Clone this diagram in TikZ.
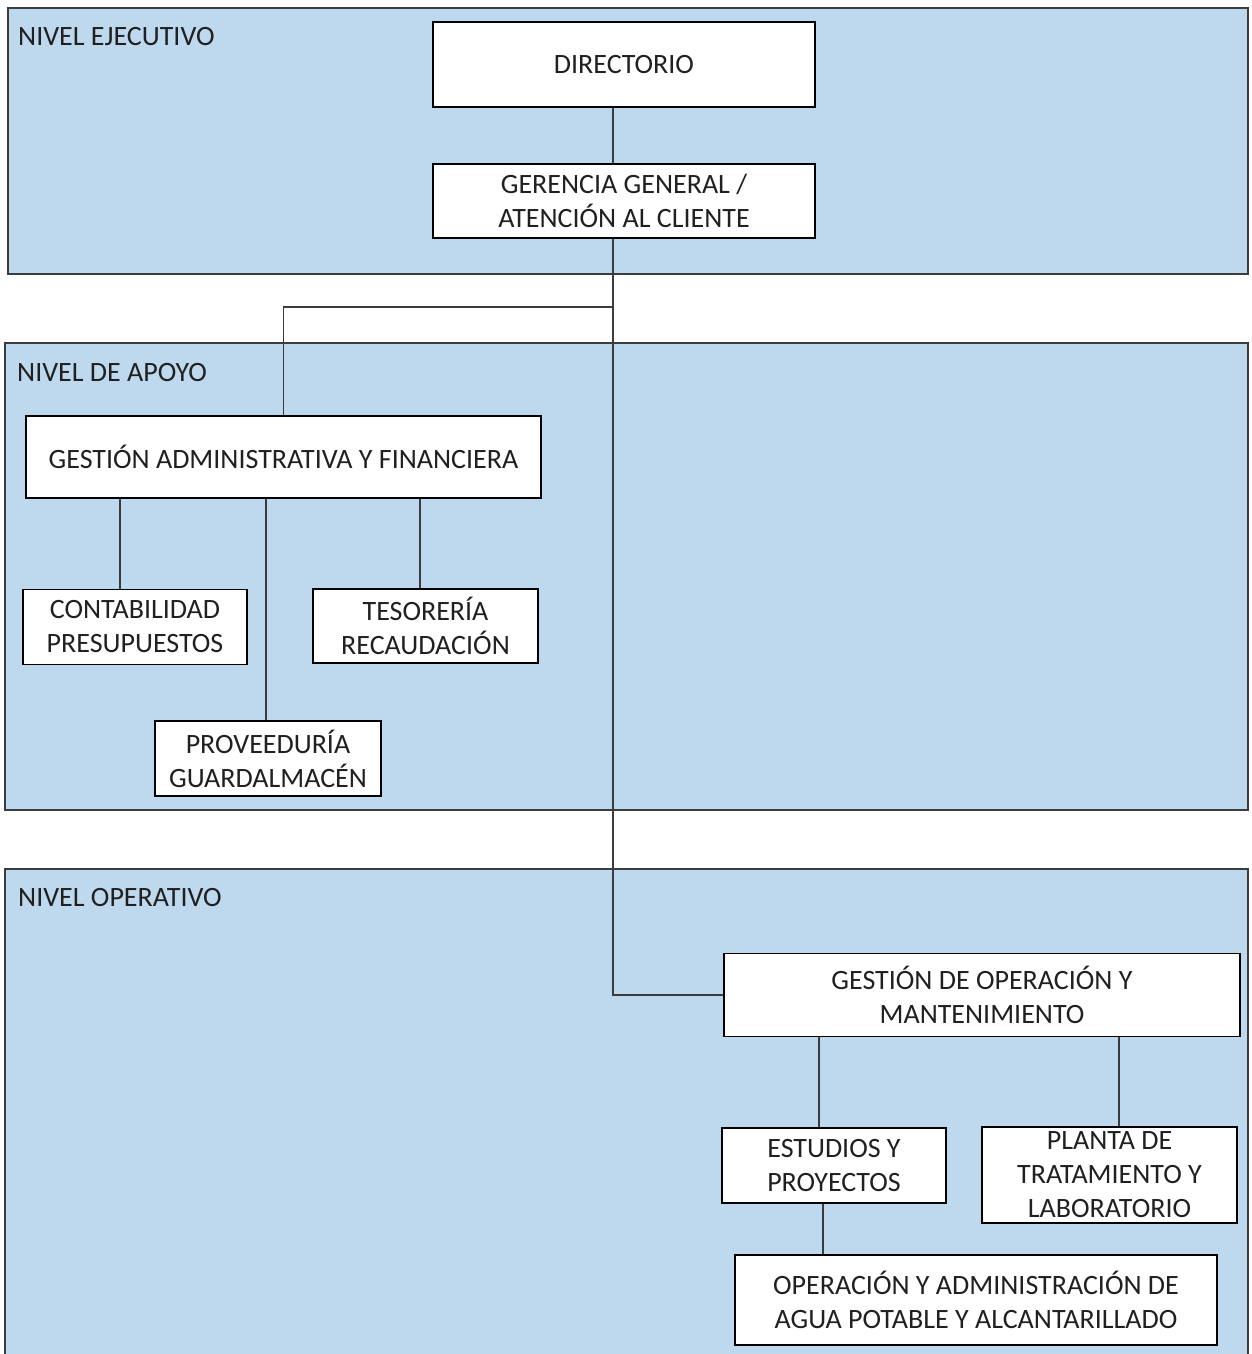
\documentclass[tikz,border=0pt]{standalone}
\usepackage{fontspec}
\setmainfont{Carlito}
\usetikzlibrary{calc}
\definecolor{bandblue}{RGB}{190,216,238}
\definecolor{inkgray}{RGB}{32,32,32}
\definecolor{linegray}{RGB}{60,60,60}
\begin{document}
\begin{tikzpicture}[x=1pt,y=-1pt,
  font=\fontsize{28}{34}\selectfont, text=inkgray,
  band/.style={draw=linegray, line width=1.8pt, fill=bandblue},
  unit/.style={draw=black, line width=1.8pt, fill=white, align=center,
    inner sep=0pt, minimum width=#1},
  level/.style={anchor=base west, inner sep=0pt},
  conn/.style={draw=linegray, line width=1.1pt}]
\useasboundingbox (0,0) rectangle (1251,1354);
\clip (0,0) rectangle (1251,1354);
\fill[white] (0,0) rectangle (1251,1354);

% organisational levels
\draw[band] (8,8) rectangle (1248,274);
\draw[band] (5,343) rectangle (1248,810);
\draw[band] (5,869) rectangle (1248,1380);
\node[level] (lvex) at (18,46) {NIVEL EJECUTIVO};
\node[level] (lvap) at (17,381) {NIVEL DE APOYO};
\node[level] (lvop) at (18,906) {NIVEL OPERATIVO};

% units
\node[unit=382, minimum height=85] (dir) at (624,64.5) {DIRECTORIO};
\node[unit=382, minimum height=74] (ger) at (624,201) {GERENCIA GENERAL /\\ATENCIÓN AL CLIENTE};
\node[unit=515, minimum height=82] (gaf) at (283.5,457) {GESTIÓN ADMINISTRATIVA Y FINANCIERA};
\node[unit=224, minimum height=75] (con) at (135,627) {CONTABILIDAD\\PRESUPUESTOS};
\node[unit=225, minimum height=74] (tes) at (425.5,626) {TESORERÍA\\RECAUDACIÓN};
\node[unit=226, minimum height=75] (pro) at (268,758.5) {PROVEEDURÍA\\GUARDALMACÉN};
\node[unit=516, minimum height=83] (gop) at (982,995) {GESTIÓN DE OPERACIÓN Y\\MANTENIMIENTO};
\node[unit=224, minimum height=75] (est) at (834,1165.5) {ESTUDIOS Y\\PROYECTOS};
\node[unit=255, minimum height=96] (pla) at (1109.5,1175) {PLANTA DE\\TRATAMIENTO Y\\LABORATORIO};
\node[unit=482, minimum height=90] (oya) at (976,1300) {OPERACIÓN Y ADMINISTRACIÓN DE\\AGUA POTABLE Y ALCANTARILLADO};

% connector tracks
\coordinate (trunk) at (613,0);
\coordinate (split) at (0,307);
\coordinate (xcon) at (120,0);
\coordinate (xpro) at (266,0);
\coordinate (xtes) at (420,0);
\coordinate (xest) at (819,0);
\coordinate (xpla) at (1119,0);
\coordinate (xoya) at (823,0);

% connectors
\draw[conn] (dir.south -| trunk) -- (ger.north -| trunk);
\draw[conn] (ger.south -| trunk) -- (gop.west -| trunk) -- (gop.west);
\draw[conn] (trunk |- split) -- (gaf.north |- split) -- (gaf.north);
\draw[conn] (gaf.south -| xcon) -- (con.north -| xcon);
\draw[conn] (gaf.south -| xpro) -- (pro.north -| xpro);
\draw[conn] (gaf.south -| xtes) -- (tes.north -| xtes);
\draw[conn] (gop.south -| xest) -- (est.north -| xest);
\draw[conn] (gop.south -| xpla) -- (pla.north -| xpla);
\draw[conn] (est.south -| xoya) -- (oya.north -| xoya);
\end{tikzpicture}
\end{document}
